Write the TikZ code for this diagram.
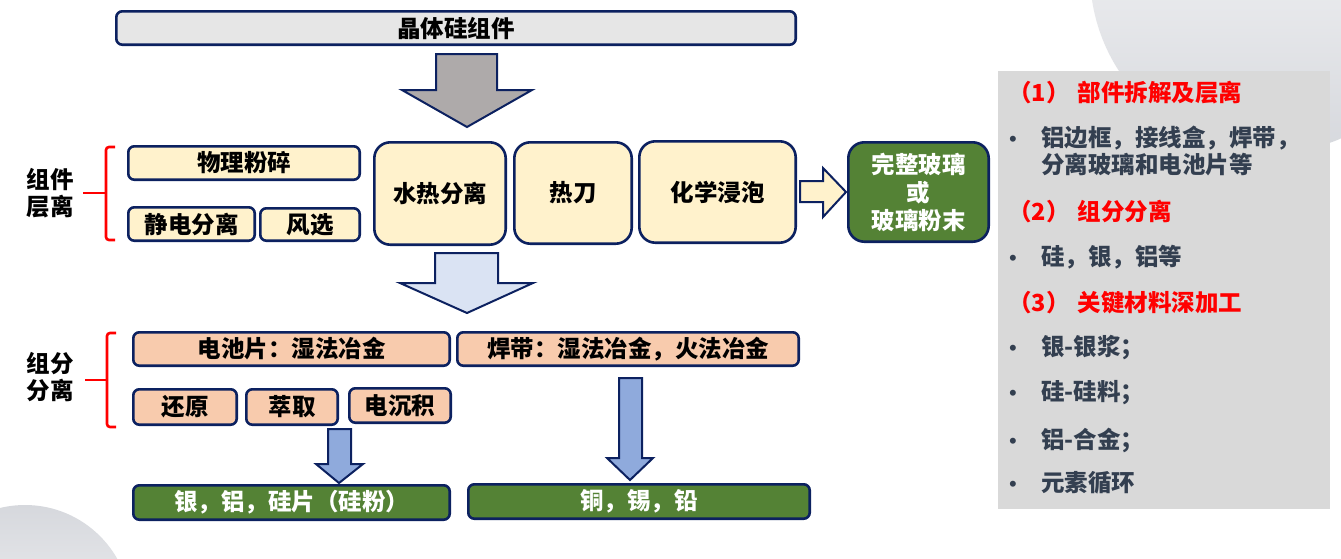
\documentclass[tikz,border=0pt]{standalone}
\usepackage{fontspec}
\setmainfont{Noto Sans CJK SC}
\newfontfamily\bulletfont{Liberation Sans}
\definecolor{bnavy}{HTML}{0C2160}
\definecolor{cream}{HTML}{FFF2CC}
\definecolor{peach}{HTML}{F8CBAD}
\definecolor{leaf}{HTML}{548235}
\definecolor{lgray}{HTML}{E6E6E6}
\definecolor{panelgray}{HTML}{D9D9D9}
\definecolor{slate}{HTML}{333F50}
\definecolor{arrgray}{HTML}{AEAAAA}
\definecolor{paleblue}{HTML}{DAE3F3}
\definecolor{midblue}{HTML}{8FAADC}
\definecolor{circgray}{HTML}{D6D8DD}
\newcommand\RBX[7]{\node[#1, minimum width={#5-#3-2.6}, minimum height={#6-#4-2.6}] (#2) at ({(#3+#5)/2},{(#4+#6)/2}) {#7};}
\begin{document}
\begin{tikzpicture}[x=1pt,y=-1pt,
  box/.style={draw=bnavy, line width=2.6pt, rounded corners=6pt, inner sep=0pt, align=center, font=\fontsize{23.5}{28}\selectfont\bfseries, text=black},
  tbox/.style={box, fill=lgray},
  cbox/.style={box, fill=cream},
  bigbox/.style={box, fill=cream, rounded corners=16pt},
  pbox/.style={box, fill=peach},
  gbox/.style={box, fill=leaf, text=white},
  ggbox/.style={gbox, rounded corners=16pt},
  blockarrow/.style={draw=bnavy, line width=2pt, line join=miter},
  brace/.style={draw=red, line width=2.6pt, rounded corners=3pt},
  lab/.style={font=\fontsize{23.5}{27}\selectfont\bfseries, align=center, inner sep=0pt},
  head/.style={font=\fontsize{23.5}{27}\selectfont\bfseries, text=red, anchor=west, inner sep=0pt},
  item/.style={font=\fontsize{23.5}{27}\selectfont\bfseries, text=slate, anchor=west, inner sep=0pt},
  dot/.style={font=\bulletfont\fontsize{22}{27}\selectfont, text=slate, inner sep=0pt, anchor=base}]
\useasboundingbox (0,0) rectangle (1341,558);
\fill[white] (0,0) rectangle (1341,558);
\begin{scope}
\clip (0,0) rectangle (1341,558);
\shade[top color=white, bottom color=circgray] (1270,-27) circle[radius=180pt];
\shade[top color=circgray, bottom color=white] (25,611) circle[radius=106pt];
\end{scope}
% right panel
\fill[panelgray] (998,71) rectangle (1330,509);
\coordinate (bcol) at (1013,0);
\node[head] (h1) at (1008,93) {（1）\hspace{8pt}部件拆解及层离};
\node[item] (i1) at (1041,138) {铝边框，接线盒，焊带，};
\node[item] (i1b) at (1041,165) {分离玻璃和电池片等};
\node[head] (h2) at (1008,212) {（2）\hspace{8pt}组分分离};
\node[item] (i2) at (1041,257) {硅，银，铝等};
\node[head] (h3) at (1008,303) {（3）\hspace{8pt}关键材料深加工};
\node[item] (i3) at (1041,348) {银-银浆；};
\node[item] (i4) at (1041,393) {硅-硅料；};
\node[item] (i5) at (1041,440) {铝-合金；};
\node[item] (i6) at (1041,483) {元素循环};
\node[dot] (d1) at (bcol |- i1.base) {•};
\node[dot] (d2) at (bcol |- i2.base) {•};
\node[dot] (d3) at (bcol |- i3.base) {•};
\node[dot] (d4) at (bcol |- i4.base) {•};
\node[dot] (d5) at (bcol |- i5.base) {•};
\node[dot] (d6) at (bcol |- i6.base) {•};
% top box
\RBX{tbox}{top}{115}{10}{797}{46}{晶体硅组件}
% gray arrow
\draw[blockarrow, fill=arrgray] (436,54) -- (497,54) -- (497,90) -- (532,90) -- (467,127) -- (402,90) -- (436,90) -- cycle;
% row 2
\RBX{cbox}{phy}{127}{145}{361}{181}{物理粉碎}
\RBX{cbox}{ele}{127}{206}{256}{242}{静电分离}
\RBX{cbox}{wind}{259}{207}{361}{242}{风选}
\RBX{bigbox}{hyd}{373}{141}{507}{246}{水热分离}
\RBX{bigbox}{knife}{513}{141}{633}{245}{热刀}
\RBX{bigbox}{chem}{638}{140}{797}{244}{化学浸泡}
\RBX{ggbox}{glass}{847}{141}{990}{243}{完整玻璃\\或\\玻璃粉末}
\draw[blockarrow, fill=cream] (800,181) -- (823,181) -- (823,168) -- (846,192) -- (823,217) -- (823,202) -- (800,202) -- cycle;
% bracket 1
\draw[brace] (115,147) -- (106,147) -- (106,240) -- (115,240);
\draw[brace] (83,193) -- (106,193);
\node[lab] (l1) at (50,193) {组件\\层离};
% light blue arrow
\draw[blockarrow, fill=paleblue] (435,253) -- (498,253) -- (498,283) -- (533,283) -- (467,313) -- (400,283) -- (435,283) -- cycle;
% row 3
\RBX{pbox}{cell}{132}{331}{451}{367}{电池片：湿法冶金}
\RBX{pbox}{ribbon}{456}{331}{800}{367}{焊带：湿法冶金，火法冶金}
\RBX{pbox}{redu}{132}{388}{238}{426}{还原}
\RBX{pbox}{extr}{245}{388}{339}{426}{萃取}
\RBX{pbox}{elec}{348}{387}{452}{424}{电沉积}
\draw[brace] (116,333) -- (107,333) -- (107,427) -- (116,427);
\draw[brace] (85,380) -- (107,380);
\node[lab] (l2) at (50,377) {组分\\分离};
% blue arrows
\draw[blockarrow, fill=midblue] (328,429) -- (351,429) -- (351,464) -- (363,464) -- (339,483) -- (316,464) -- (328,464) -- cycle;
\draw[blockarrow, fill=midblue] (619,378) -- (642,378) -- (642,458) -- (653,458) -- (630,480) -- (607,458) -- (619,458) -- cycle;
% results
\RBX{gbox}{res1}{132}{484}{451}{521}{银，铝，硅片（硅粉）}
\RBX{gbox}{res2}{467}{483}{811}{520}{铜，锡，铅}
\end{tikzpicture}
\end{document}
